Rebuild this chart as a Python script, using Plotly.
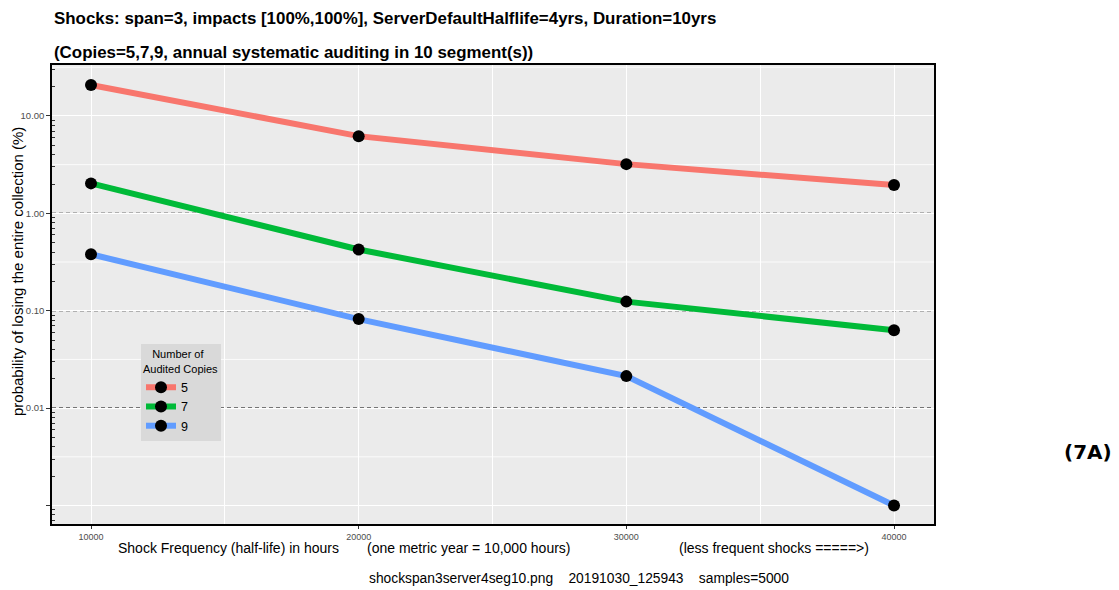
import plotly.graph_objects as go

x_hours = [10000, 20000, 30000, 40000]
copies = ["5", "7", "9"]
loss_pct = {
    "5": [20.8, 6.2, 3.2, 1.95],
    "7": [2.03, 0.425, 0.124, 0.063],
    "9": [0.38, 0.082, 0.0213, 0.001],
}
colors = {"5": "#F8766D", "7": "#00BA38", "9": "#619CFF"}
y_major = [0.001, 0.01, 0.1, 1, 10]
y_major_text = ["", "0.01", "0.10", "1.00", "10.00"]
y_dashed = [0.01, 0.1, 1]
y_halfdec = [0.001 * 10 ** 0.5, 0.01 * 10 ** 0.5, 0.1 * 10 ** 0.5, 10 ** 0.5, 10 * 10 ** 0.5]
y_minor = [m * d for d in [0.0001, 0.001, 0.01, 0.1, 1, 10] for m in range(2, 10)]
x_ticks = [10000, 20000, 30000, 40000]

FONT = "Liberation Sans, Arial, sans-serif"
SP = "&nbsp;" * 4

fig = go.Figure()
for c in copies:
    fig.add_trace(go.Scatter(
        x=x_hours, y=loss_pct[c], name=c, mode="lines+markers",
        line=dict(color=colors[c], width=6),
        marker=dict(color="black", size=12),
    ))

shapes = []
for v in y_halfdec:
    shapes.append(dict(type="line", xref="paper", yref="y", x0=0, x1=1, y0=v, y1=v,
                       line=dict(color="white", width=0.8), layer="below"))
for v in y_dashed:
    shapes.append(dict(type="line", xref="paper", yref="y", x0=0, x1=1, y0=v, y1=v,
                       line=dict(color="black", width=1.2, dash="4px,3px"), layer="between"))

annotations = [
    dict(text="<b>Shocks: span=3, impacts [100%,100%], ServerDefaultHalflife=4yrs, Duration=10yrs</b>",
         xref="paper", yref="paper", x=0, y=1, yshift=47, xanchor="left", yanchor="middle",
         showarrow=False, font=dict(size=16.9, color="black", family=FONT)),
    dict(text="<b>(Copies=5,7,9, annual systematic auditing in 10 segment(s))</b>",
         xref="paper", yref="paper", x=0, y=1, yshift=13, xanchor="left", yanchor="middle",
         showarrow=False, font=dict(size=16.9, color="black", family=FONT)),
    dict(text="probability of losing the entire collection (%)", xref="paper", yref="paper",
         x=(17 - 52) / 882, y=(524 - 272) / 459, textangle=-90, xanchor="center", yanchor="middle",
         showarrow=False, font=dict(size=15, color="black", family=FONT)),
    dict(text="Shock Frequency (half-life) in hours", xref="paper", yref="paper",
         x=(116 - 52) / 882, y=0, yshift=-24, xanchor="left", yanchor="middle",
         showarrow=False, font=dict(size=14, color="black", family=FONT)),
    dict(text="(one metric year = 10,000 hours)", xref="paper", yref="paper",
         x=(365 - 52) / 882, y=0, yshift=-24, xanchor="left", yanchor="middle",
         showarrow=False, font=dict(size=14, color="black", family=FONT)),
    dict(text="(less frequent shocks =====>)", xref="paper", yref="paper",
         x=(677 - 52) / 882, y=0, yshift=-24, xanchor="left", yanchor="middle",
         showarrow=False, font=dict(size=14, color="black", family=FONT)),
    dict(text="shockspan3server4seg10.png" + SP + "20191030_125943" + SP + "samples=5000",
         xref="paper", yref="paper",
         x=(367 - 52) / 882, y=0, yshift=-54, xanchor="left", yanchor="middle",
         showarrow=False, font=dict(size=13.8, color="black", family=FONT)),
    dict(text="<b>(7A)</b>", xref="paper", yref="paper",
         x=(1088 - 52) / 882, y=(524 - 452) / 459, xanchor="center", yanchor="middle",
         showarrow=False, font=dict(size=20, color="black", family="DejaVu Sans, sans-serif")),
]

fig.update_layout(
    width=1119, height=590,
    margin=dict(l=52, r=185, t=65, b=66, autoexpand=False),
    paper_bgcolor="white", plot_bgcolor="#EBEBEB",
    font=dict(family=FONT, color="black"),
    showlegend=True,
    legend=dict(
        title=dict(text="&nbsp;&nbsp;&nbsp;Number of<br>Audited Copies", side="top",
                   font=dict(size=11, color="black", family=FONT)),
        x=(141 - 52) / 882, y=(524 - 344) / 459, xanchor="left", yanchor="top",
        bgcolor="#D9D9D9", font=dict(size=12.5, color="black", family=FONT),
        itemwidth=30, tracegroupgap=0,
    ),
    shapes=shapes,
    annotations=annotations,
    xaxis=dict(
        range=[8543, 41494], tickvals=x_ticks, ticktext=[str(v) for v in x_ticks],
        tickfont=dict(size=9, color="#4D4D4D"), ticks="outside", ticklen=3,
        tickcolor="#333333", showgrid=True, gridcolor="white", gridwidth=1.2,
        minor=dict(dtick=5000, tick0=0, showgrid=True, gridcolor="white", gridwidth=0.8),
        showline=True, linecolor="black", linewidth=1.5, mirror=True, zeroline=False,
        automargin=False,
    ),
    yaxis=dict(
        type="log", range=[-3.19, 1.523], tickvals=y_major, ticktext=y_major_text,
        tickfont=dict(size=9.5, color="#4D4D4D"), ticks="outside", ticklen=4,
        tickcolor="#333333", showgrid=True, gridcolor="white", gridwidth=1.2,
        minor=dict(tickvals=y_minor, ticks="inside", ticklen=3, tickcolor="#333333",
                   showgrid=False),
        showline=True, linecolor="black", linewidth=1.5, mirror=True, zeroline=False,
        automargin=False,
    ),
)

fig.write_html("out.html", config={"displayModeBar": False},
               post_script="document.body.style.margin='0';document.body.style.padding='0';")
